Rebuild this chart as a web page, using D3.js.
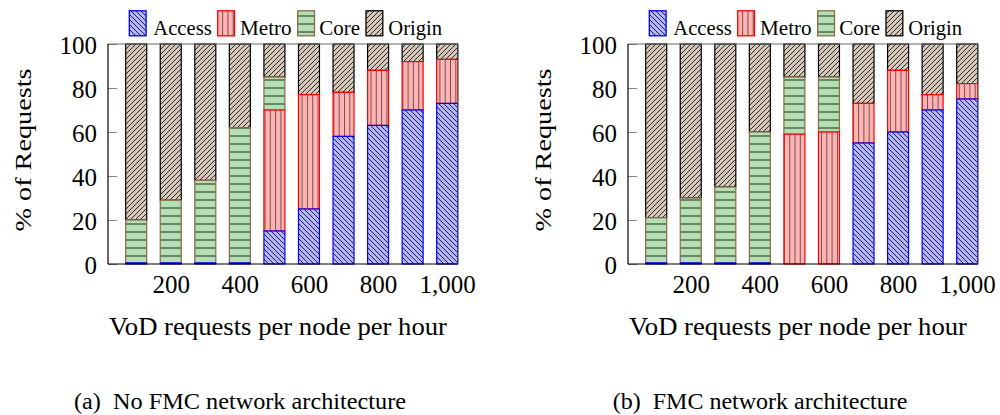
<!DOCTYPE html>
<html>
<head>
<meta charset="utf-8">
<script src="https://cdn.jsdelivr.net/npm/d3@7"></script>
<style>
  html, body { margin: 0; padding: 0; background: #fff; }
  svg { display: block; }
</style>
</head>
<body>
<svg id="chart" width="1000" height="415" font-family="Liberation Serif"></svg>
<script>
// ---------------- data ----------------
const categories = [100, 200, 300, 400, 500, 600, 700, 800, 900, 1000];
const seriesNames = ["Access", "Metro", "Core", "Origin"];

// (a) No FMC network architecture
const noFmcAccess = [0.5, 0.5, 0.5, 0.5, 15, 25, 58, 63, 70, 73];
const noFmcMetro  = [0, 0, 0, 0, 55, 52, 20, 25, 22, 20];
const noFmcCore   = [19.5, 28.5, 37.5, 61.5, 15, 0, 0, 0, 0, 0];
const noFmcOrigin = [80, 71, 62, 38, 15, 23, 22, 12, 8, 7];

// (b) FMC network architecture
const fmcAccess = [0.5, 0.5, 0.5, 0.5, 0, 0, 55, 60, 70, 75];
const fmcMetro  = [0, 0, 0, 0, 59, 60, 18, 28, 7, 7];
const fmcCore   = [20.5, 29.5, 34.5, 59.5, 26, 25, 0, 0, 0, 0];
const fmcOrigin = [79, 70, 65, 40, 15, 15, 27, 12, 23, 18];

const yTickValues = [0, 20, 40, 60, 80, 100];
const xTickValues = [200, 400, 600, 800, 1000];
const xDomain = [18.4, 1031.3];

const captions = ["(a)  No FMC network architecture", "(b)  FMC network architecture"];
const xLabel = "VoD requests per node per hour";
const yLabel = "% of Requests";

// ---------------- styles ----------------
const FONT = "Liberation Serif";
const styles = {
  Access: { fill: "#b3b3ff", stroke: "#0000ff", hatch: "nw", step: 5,   hatchOpacity: 0.9 },
  Metro:  { fill: "#ffb3b3", stroke: "#ff0000", hatch: "v",  step: 5.3, hatchOpacity: 0.6 },
  Core:   { fill: "#b4dfb2", stroke: "#8b6b43", hatch: "h",  step: 8,   hatchOpacity: 0.9 },
  Origin: { fill: "#d6c9bb", stroke: "#000000", hatch: "ne", step: 5,   hatchOpacity: 0.9 }
};

// hatch lines clipped to a rectangle, built as one path string
function hatchPath(kind, p, x0, y0, w, h) {
  const x1 = x0 + w, y1 = y0 + h;
  let d = "";
  if (kind === "v") {
    for (let xs = Math.ceil(x0 / p) * p; xs < x1; xs += p) if (xs > x0) d += `M${xs},${y0}V${y1}`;
  } else if (kind === "h") {
    for (let ys = Math.ceil(y0 / p) * p; ys < y1; ys += p) if (ys > y0) d += `M${x0},${ys}H${x1}`;
  } else if (kind === "nw") { // y - x = c
    for (let c = Math.floor((y0 - x1) / p) * p; c <= y1 - x0; c += p) {
      const a = Math.max(x0, y0 - c), b = Math.min(x1, y1 - c);
      if (b > a) d += `M${a},${a + c}L${b},${b + c}`;
    }
  } else if (kind === "ne") { // x + y = c
    for (let c = Math.floor((x0 + y0) / p) * p; c <= x1 + y1; c += p) {
      const a = Math.max(x0, c - y1), b = Math.min(x1, c - y0);
      if (b > a) d += `M${a},${c - a}L${b},${c - b}`;
    }
  }
  return d;
}

const svg = d3.select("#chart");

function drawBox(parent, st, x0, y0, w, h, sw) {
  parent.append("rect").attr("x", x0).attr("y", y0).attr("width", w).attr("height", h).attr("fill", st.fill);
  parent.append("path").attr("d", hatchPath(st.hatch, st.step, x0, y0, w, h))
    .attr("fill", "none").attr("stroke", "#000").attr("stroke-width", 0.9).attr("stroke-opacity", st.hatchOpacity);
  parent.append("rect").attr("x", x0).attr("y", y0).attr("width", w).attr("height", h)
    .attr("fill", "none").attr("stroke", st.stroke).attr("stroke-width", sw);
}

const panels = [
  { off: 0,   access: noFmcAccess, metro: noFmcMetro, core: noFmcCore, origin: noFmcOrigin, caption: captions[0], capX: 74,  capW: 332 },
  { off: 520, access: fmcAccess,   metro: fmcMetro,   core: fmcCore,   origin: fmcOrigin,   caption: captions[1], capX: 612.7, capW: 294.7 }
];

const barW = 21;

panels.forEach((P) => {
  const L = 108 + P.off, R = 458 + P.off, T = 44, B = 264;
  const x = d3.scaleLinear().domain(xDomain).range([L, R]);
  const y = d3.scaleLinear().domain([0, 100]).range([B, T]);

  const table = categories.map((c, i) => ({
    cat: c, Access: P.access[i], Metro: P.metro[i], Core: P.core[i], Origin: P.origin[i]
  }));
  const stacked = d3.stack().keys(seriesNames)(table);

  const g = svg.append("g");

  // y axis with inner ticks
  const yAxis = d3.axisLeft(y).tickValues(yTickValues).tickSizeInner(-9).tickSizeOuter(0).tickPadding(11);
  const ya = g.append("g").attr("transform", `translate(${L},0)`).call(yAxis)
    .attr("font-family", FONT).attr("font-size", 25);
  ya.select(".domain").remove();
  ya.selectAll(".tick line").attr("stroke", "#888").attr("stroke-width", 1);
  ya.selectAll(".tick text").attr("dy", "0.36em");

  // bars, drawn top series first so lower borders stay visible
  const barsG = g.append("g");
  stacked.slice().reverse().forEach((ser) => {
    const st = styles[ser.key];
    ser.forEach((d) => {
      if (d[1] - d[0] <= 0) return;
      const x0 = x(d.data.cat) - barW / 2;
      const y0 = y(d[1]);
      const h = y(d[0]) - y(d[1]);
      drawBox(barsG, st, x0, y0, barW, h, 1.2);
    });
  });

  // frame
  g.append("line").attr("x1", L).attr("x2", R).attr("y1", T).attr("y2", T).attr("stroke", "#666").attr("stroke-width", 1.2);
  g.append("line").attr("x1", R).attr("x2", R).attr("y1", T).attr("y2", B).attr("stroke", "#666").attr("stroke-width", 1);
  g.append("line").attr("x1", L).attr("x2", L).attr("y1", T).attr("y2", B).attr("stroke", "#000").attr("stroke-width", 1.2);
  g.append("line").attr("x1", L).attr("x2", R).attr("y1", B).attr("y2", B).attr("stroke", "#000").attr("stroke-width", 1.2);

  // x axis labels
  const xAxis = d3.axisBottom(x).tickValues(xTickValues).tickFormat(d3.format(",")).tickSize(0).tickPadding(11);
  const xa = g.append("g").attr("transform", `translate(0,${B})`).call(xAxis)
    .attr("font-family", FONT).attr("font-size", 25);
  xa.select(".domain").remove();

  // axis titles
  g.append("text").attr("x", L + 170).attr("y", 335).attr("text-anchor", "middle")
    .attr("font-family", FONT).attr("font-size", 25)
    .attr("textLength", 338).attr("lengthAdjust", "spacingAndGlyphs")
    .text(xLabel);
  g.append("text").attr("transform", `translate(${31 + P.off},150) rotate(-90)`)
    .attr("text-anchor", "middle").attr("font-family", FONT).attr("font-size", 24)
    .attr("textLength", 163).attr("lengthAdjust", "spacingAndGlyphs")
    .text(yLabel);

  // caption
  g.append("text").attr("x", P.capX).attr("y", 409)
    .attr("font-family", FONT).attr("font-size", 24)
    .attr("textLength", P.capW).attr("lengthAdjust", "spacingAndGlyphs")
    .style("white-space", "pre")
    .text(P.caption);

  // legend
  const legendItems = [
    { key: "Access", sx: 129.3, tx: 153.3, tw: 58.4 },
    { key: "Metro",  sx: 217.7, tx: 240,   tw: 51.7 },
    { key: "Core",   sx: 297.7, tx: 319.3, tw: 40.7 },
    { key: "Origin", sx: 366,   tx: 388.3, tw: 53.8 }
  ];
  const lg = g.append("g").attr("transform", `translate(${P.off},0)`);
  legendItems.forEach((it) => {
    const st = styles[it.key];
    drawBox(lg, st, it.sx, 10.8, 16.8, 25, 1.3);
    lg.append("text").attr("x", it.tx).attr("y", 35).attr("font-family", FONT).attr("font-size", 22)
      .attr("textLength", it.tw).attr("lengthAdjust", "spacingAndGlyphs")
      .text(it.key);
  });
});
</script>
</body>
</html>
